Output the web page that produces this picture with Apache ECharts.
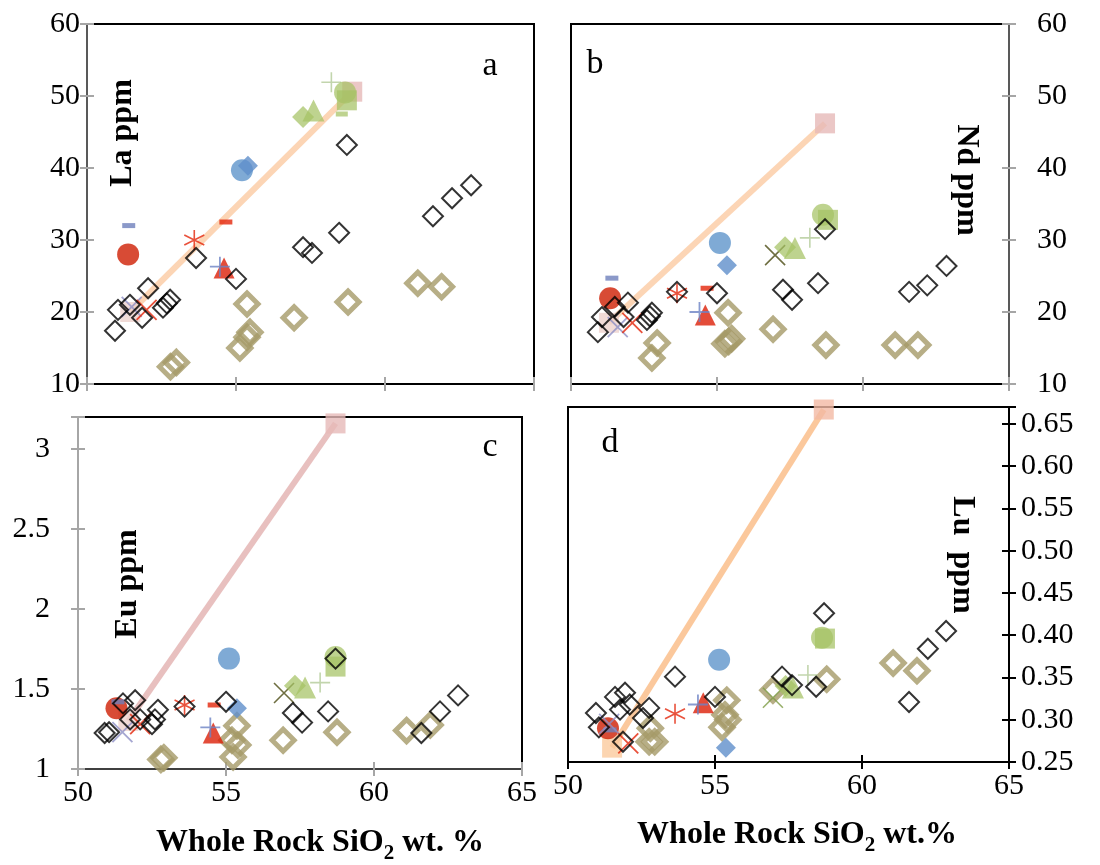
<!DOCTYPE html>
<html>
<head>
<meta charset="utf-8">
<script src="https://cdn.jsdelivr.net/npm/echarts@6/dist/echarts.min.js"></script>
<style>
html,body{margin:0;padding:0;background:#fff}
#chart{width:1100px;height:865px}
</style>
</head>
<body>
<div id="chart"></div>
<script>
// Whole-rock SiO2 (wt.%) against La, Nd, Eu and Lu (ppm)

// ---- axis ticks ----
const xTicks = [50, 55, 60, 65];
const laTicks = [10, 20, 30, 40, 50, 60];
const ndTicks = [10, 20, 30, 40, 50, 60];
const euTicks = [1, 1.5, 2, 2.5, 3];
const luTicks = [0.25, 0.30, 0.35, 0.40, 0.45, 0.50, 0.55, 0.60, 0.65];

// ---- open black diamonds ----
const blackLa = [[50.94,17.4],[51.04,20.3],[51.44,21.0],[51.85,19.2],[52.05,23.3],[52.55,20.6],[52.68,21.2],[52.79,21.7],[53.66,27.5],[55.0,24.6],[57.25,29.0],[57.55,28.2],[58.46,31.0],[58.72,43.2],[61.61,33.3],[62.25,35.8],[62.89,37.6]];
const blackNd = [[50.92,17.2],[51.06,19.3],[51.5,20.7],[51.95,21.3],[51.8,19.3],[52.6,18.9],[52.77,19.9],[52.7,19.4],[53.63,22.8],[55.0,22.6],[57.26,23.1],[57.57,21.7],[58.46,24.0],[58.7,31.5],[61.58,22.8],[62.2,23.7],[62.86,26.4]];
const blackEu = [[50.9,1.225],[51.05,1.23],[51.52,1.41],[51.93,1.43],[51.76,1.31],[52.1,1.31],[52.5,1.28],[52.6,1.31],[52.7,1.37],[53.6,1.39],[55.0,1.42],[57.26,1.35],[57.57,1.29],[58.45,1.36],[58.7,1.69],[61.6,1.225],[62.23,1.36],[62.84,1.46]];
const blackLu = [[50.95,0.308],[51.05,0.291],[51.6,0.327],[51.94,0.332],[51.77,0.312],[52.1,0.318],[51.87,0.274],[52.76,0.314],[52.55,0.302],[53.64,0.351],[55.0,0.327],[57.28,0.351],[57.62,0.341],[58.44,0.339],[58.71,0.426],[61.6,0.321],[62.24,0.384],[62.86,0.405]];

// ---- thick khaki diamonds ----
const khakiLa = [[52.8,12.4],[53.0,13.0],[55.37,21.1],[55.13,15.0],[55.37,16.5],[55.47,17.2],[56.95,19.2],[58.76,21.4],[61.1,24.0],[61.9,23.5]];
const khakiNd = [[52.77,13.6],[52.95,15.7],[55.38,19.9],[55.27,15.6],[55.4,15.9],[55.5,16.3],[56.92,17.6],[58.73,15.4],[61.1,15.4],[61.88,15.4]];
const khakiEu = [[52.8,1.06],[52.9,1.07],[55.37,1.27],[55.2,1.18],[55.4,1.15],[55.24,1.075],[56.93,1.18],[58.75,1.23],[61.1,1.24],[61.9,1.275]];
const khakiLu = [[52.76,0.274],[52.95,0.274],[52.8,0.29],[55.4,0.323],[55.34,0.306],[55.44,0.3],[55.24,0.291],[56.97,0.335],[58.8,0.348],[61.06,0.367],[61.87,0.358]];

// ---- single samples, one value per panel: [La, Nd, Eu, Lu] ----
const redCircle   = [[51.38,28.0],[51.34,21.9],[51.3,1.38],[51.36,0.29]];
const blueDash    = [[51.4,32.0],[51.4,24.7],[51.35,1.42],[51.43,0.288]];
const redStar     = [[53.6,30.0],[53.63,22.6],[53.6,1.40],[53.64,0.307]];
const redDash     = [[54.66,32.5],[54.66,23.3],[54.6,1.40],null];
const redTriangle = [[54.6,26.1],[54.6,19.6],[54.57,1.225],[54.6,0.32]];
const bluePlus    = [[54.46,26.3],[54.4,20.0],[54.47,1.26],[54.42,0.318]];
const blueCircle  = [[55.2,39.7],[55.1,29.6],[55.1,1.69],[55.14,0.371]];
const blueDiamond = [[55.4,40.3],[55.34,26.5],[55.37,1.38],[55.37,0.267]];
const purpleCross = [[51.5,20.7],[51.6,17.9],[51.5,1.23],[51.4,0.295]];
const redCross    = [[52.0,20.3],[52.1,18.5],[52.1,1.28],[52.05,0.272]];
const oliveCross  = [null,[56.99,27.9],[56.96,1.475],[56.97,0.326]];
const greenDiamond  = [[57.25,47.1],[57.33,29.0],[57.33,1.52],[57.4,0.34]];
const greenTriangle = [[57.6,48.0],[57.67,28.9],[57.67,1.51],[57.65,0.338]];
const greenPlus     = [[58.2,51.9],[58.18,30.3],[58.18,1.54],[58.16,0.353]];
const greenCircle   = [[58.66,50.5],[58.63,33.5],[58.7,1.70],[58.64,0.397]];
const greenSquare   = [[58.72,49.4],[58.8,32.8],[58.7,1.64],[58.74,0.396]];
const greenDash     = [[58.55,47.5],null,null,null];

// ---- mixing line end members: [low, high] per panel ----
const mixLa = [[51.45,20.0],[58.9,50.6]];
const mixNd = [[51.3,18.5],[58.7,46.2]];
const mixEu = [[51.7,1.3],[58.7,3.16]];
const mixLu = [[51.5,0.267],[58.7,0.667]];

const FONT = 'Liberation Serif';
const SYM = {
  plus: 'path://M10,0L10,20M0,10L20,10',
  cross: 'path://M0,0L20,20M20,0L0,20',
  star: 'path://M10,0L10,20M1.3,5L18.7,15M1.3,15L18.7,5'
};

const panels = [
  {black: blackLa, khaki: khakiLa, mix: mixLa, line: '#FCD5B5', lowSq: '#EDD2CD', highSq: '#E6B9B8'},
  {black: blackNd, khaki: khakiNd, mix: mixNd, line: '#FCD5B5', lowSq: '#EDD2CD', highSq: '#E6B9B8'},
  {black: blackEu, khaki: khakiEu, mix: mixEu, line: '#E8C0BF', lowSq: '#EDD2CD', highSq: '#E6B9B8'},
  {black: blackLu, khaki: khakiLu, mix: mixLu, line: '#FBC89C', lowSq: '#FBCB9E', highSq: '#F2B9A4'}
];

const singles = [
  {d: oliveCross, symbol: SYM.cross, size: 20, fill: 'rgba(0,0,0,0)', stroke: ['#4A4A12','#4A4A12','#4A4A12','#7E9C46'], lw: 1.6},
  {d: greenDiamond, symbol: 'diamond', size: 22, fill: 'rgba(165,194,100,0.9)'},
  {d: greenTriangle, symbol: 'triangle', size: 22, fill: 'rgba(165,194,100,0.9)'},
  {d: greenPlus, symbol: SYM.plus, size: 20, fill: 'rgba(0,0,0,0)', stroke: '#B3CB98', lw: 1.6},
  {d: greenSquare, symbol: 'rect', size: 20, fill: 'rgba(165,194,100,0.9)'},
  {d: greenCircle, symbol: 'circle', size: 22, fill: 'rgba(165,194,100,0.9)'},
  {d: greenDash, symbol: 'rect', size: [12,5], fill: 'rgba(165,194,100,0.9)'},
  {d: redCircle, symbol: 'circle', size: 22, fill: '#CE1E02'},
  {d: blueDash, symbol: 'rect', size: [13,5], fill: '#6E80BC'},
  {d: redDash, symbol: 'rect', size: [13,5], fill: '#E3250A'},
  {d: redTriangle, symbol: 'triangle', size: 21, fill: '#DC1F08'},
  {d: bluePlus, symbol: SYM.plus, size: 20, fill: 'rgba(0,0,0,0)', stroke: '#6B82C4', lw: 1.8},
  {d: redStar, symbol: SYM.star, size: 20, fill: 'rgba(0,0,0,0)', stroke: '#E3250A', lw: 1.6},
  {d: blueCircle, symbol: 'circle', size: 22, fill: '#5F95CB'},
  {d: blueDiamond, symbol: 'diamond', size: 20, fill: '#5F8FCB'},
  {d: purpleCross, symbol: SYM.cross, size: 20, fill: 'rgba(0,0,0,0)', stroke: '#8E90C6', lw: 1.8},
  {d: redCross, symbol: SYM.cross, size: 20, fill: 'rgba(0,0,0,0)', stroke: '#E3250A', lw: 1.8}
];

const series = [];
panels.forEach((p, i) => {
  series.push({
    type: 'line', xAxisIndex: i, yAxisIndex: i, data: p.mix, symbol: 'none',
    lineStyle: {color: p.line, width: 6}, z: 1, silent: true
  });
  series.push({
    type: 'scatter', xAxisIndex: i, yAxisIndex: i, symbol: 'rect', symbolSize: 20, z: 2,
    data: [
      {value: p.mix[0], itemStyle: {color: p.lowSq}},
      {value: p.mix[1], itemStyle: {color: p.highSq}}
    ]
  });
  series.push({
    type: 'scatter', xAxisIndex: i, yAxisIndex: i, data: p.khaki, symbol: 'diamond', symbolSize: 22, z: 3,
    itemStyle: {color: 'rgba(0,0,0,0)', borderColor: '#A59A68', borderWidth: 5}
  });
  singles.forEach(s => {
    const v = s.d[i];
    if (!v) return;
    const stroke = Array.isArray(s.stroke) ? s.stroke[i] : s.stroke;
    series.push({
      type: 'scatter', xAxisIndex: i, yAxisIndex: i, data: [v], symbol: s.symbol, symbolSize: s.size, z: 4,
      itemStyle: stroke ? {color: s.fill, borderColor: stroke, borderWidth: s.lw} : {color: s.fill}
    });
  });
  series.push({
    type: 'scatter', xAxisIndex: i, yAxisIndex: i, data: p.black, symbol: 'diamond', symbolSize: 20, z: 5,
    itemStyle: {color: 'rgba(0,0,0,0)', borderColor: '#000', borderWidth: 2}
  });
});

const inList = (list, v) => list.some(t => Math.abs(t - v) < 1e-6);
const labelStyle = {fontFamily: FONT, fontSize: 30, color: '#000'};

// tick marks cross the axis line: an outer axis carries labels, an inner twin adds the inward half
function xAxisFor(i, showLabels, tickColor, lineColor, inner) {
  return {
    type: 'value', gridIndex: i, min: 50, max: 65, interval: 5, position: 'bottom',
    axisLine: {show: !inner, lineStyle: {color: lineColor, width: 2}},
    axisTick: {show: true, inside: !!inner, length: 7, lineStyle: {color: tickColor, width: 2}},
    splitLine: {show: false},
    axisLabel: Object.assign({show: showLabels && !inner, margin: 9,
      formatter: v => inList(xTicks, v) ? String(v) : ''}, labelStyle)
  };
}

function yAxisFor(i, pos, ticks, min, max, interval, digits, margin, tickColor, lineColor, inner) {
  return {
    type: 'value', gridIndex: i, position: pos, min: min, max: max, interval: interval,
    axisLine: {show: !inner, lineStyle: {color: lineColor, width: 2}},
    axisTick: {show: true, inside: !!inner, length: 7, lineStyle: {color: tickColor, width: 2}},
    splitLine: {show: false},
    axisLabel: Object.assign({show: !inner, margin: margin,
      formatter: v => inList(ticks, v) ? (digits ? v.toFixed(digits) : String(v)) : ''}, labelStyle)
  };
}

const titleRich = {
  m: {fontFamily: FONT, fontSize: 32, fontWeight: 'bold', color: '#000', lineHeight: 42, verticalAlign: 'middle'},
  s: {fontFamily: FONT, fontSize: 21, fontWeight: 'bold', color: '#000', lineHeight: 42, verticalAlign: 'bottom'}
};

function txt(x, y, text, size, bold, rot) {
  return {
    type: 'text', x: x, y: y, rotation: rot || 0, z: 10,
    style: {text: text, fontFamily: FONT, fontSize: size, fontWeight: bold ? 'bold' : 'normal', fill: '#000',
      align: 'center', verticalAlign: 'middle', textAlign: 'center', textVerticalAlign: 'middle'}
  };
}

const GREY = '#A6A6A6';
const option = {
  animation: false,
  backgroundColor: '#fff',
  grid: [
    {left: 87, top: 24, width: 447, height: 360, show: true, borderColor: '#000', borderWidth: 2, backgroundColor: 'transparent'},
    {left: 571, top: 24, width: 438, height: 360, show: true, borderColor: '#000', borderWidth: 2, backgroundColor: 'transparent'},
    {left: 78, top: 417, width: 444, height: 352, show: true, borderColor: '#000', borderWidth: 2, backgroundColor: 'transparent'},
    {left: 568, top: 407, width: 441, height: 355, show: true, borderColor: '#000', borderWidth: 2, backgroundColor: 'transparent'}
  ],
  xAxis: [
    xAxisFor(0, false, GREY, '#000'),
    xAxisFor(1, false, GREY, '#000'),
    xAxisFor(2, true, GREY, '#404040'),
    xAxisFor(3, true, '#000', '#000'),
    xAxisFor(0, false, GREY, '#000', true),
    xAxisFor(1, false, GREY, '#000', true),
    xAxisFor(2, false, GREY, '#404040', true),
    xAxisFor(3, false, '#000', '#000', true)
  ],
  yAxis: [
    yAxisFor(0, 'left', laTicks, 10, 60, 10, 0, 7, GREY, '#595959'),
    yAxisFor(1, 'right', ndTicks, 10, 60, 10, 0, 28, GREY, '#595959'),
    yAxisFor(2, 'left', euTicks, 1, 3.2, 0.5, 0, 28, GREY, GREY),
    yAxisFor(3, 'right', luTicks, 0.25, 0.67, 0.05, 2, 12, '#000', '#000'),
    yAxisFor(0, 'left', laTicks, 10, 60, 10, 0, 7, GREY, '#595959', true),
    yAxisFor(1, 'right', ndTicks, 10, 60, 10, 0, 28, GREY, '#595959', true),
    yAxisFor(2, 'left', euTicks, 1, 3.2, 0.5, 0, 28, GREY, GREY, true),
    yAxisFor(3, 'right', luTicks, 0.25, 0.67, 0.05, 2, 12, '#000', '#000', true)
  ],
  graphic: [
    txt(490, 66, 'a', 34, false),
    txt(595, 64, 'b', 34, false),
    txt(490, 447, 'c', 34, false),
    txt(610, 443, 'd', 34, false),
    txt(123, 133, 'La ppm', 32, true, Math.PI / 2),
    txt(966, 180, 'Nd ppm', 32, true, -Math.PI / 2),
    txt(128, 584, 'Eu ppm', 32, true, Math.PI / 2),
    txt(962, 555, 'Lu  ppm', 32, true, -Math.PI / 2),
    {type: 'text', x: 320, y: 843, z: 10,
     style: {text: '{m|Whole Rock SiO}{s|2}{m| wt. %}', rich: titleRich,
       align: 'center', verticalAlign: 'middle', textAlign: 'center', textVerticalAlign: 'middle'}},
    {type: 'text', x: 797, y: 835, z: 10,
     style: {text: '{m|Whole Rock SiO}{s|2}{m| wt.%}', rich: titleRich,
       align: 'center', verticalAlign: 'middle', textAlign: 'center', textVerticalAlign: 'middle'}}
  ],
  series: series
};

const chart = echarts.init(document.getElementById('chart'), null, {renderer: 'canvas'});
chart.setOption(option);
</script>
</body>
</html>
